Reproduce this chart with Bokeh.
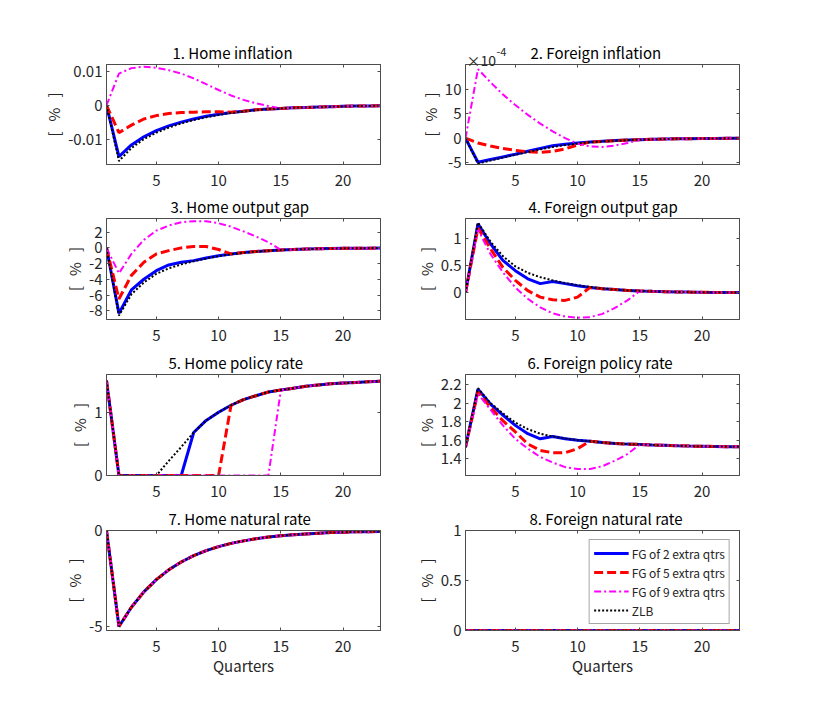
from bokeh.plotting import figure
from bokeh.layouts import gridplot
from bokeh.models import (Range1d, FixedTicker, LinearAxis, CustomJSTickFormatter,
                          Legend, LegendItem, Label)
from bokeh.embed import file_html
from bokeh.resources import INLINE

FONT = "Noto Sans CJK JP"
AX = "#4d4d4d"
TXT = "#262626"

quarters = list(range(1, 24))
series_labels = ["FG of 2 extra qtrs", "FG of 5 extra qtrs", "FG of 9 extra qtrs", "ZLB"]
x_ticks = [5, 10, 15, 20]

# 1. Home inflation
home_infl_fg2 = [0.0, -0.0150, -0.0116, -0.0092, -0.0074, -0.0060, -0.0049, -0.0040, -0.0032, -0.0026, -0.0021, -0.0017, -0.0013, -0.0011, -0.0009, -0.0007, -0.0006, -0.0005, -0.0004, -0.0003, -0.0002, -0.0002, -0.0001]
home_infl_fg5 = [0.0, -0.0080, -0.0058, -0.0040, -0.0030, -0.0024, -0.0021, -0.0020, -0.0019, -0.0019, -0.0020, -0.0017, -0.0013, -0.0011, -0.0009, -0.0007, -0.0006, -0.0005, -0.0004, -0.0003, -0.0002, -0.0002, -0.0001]
home_infl_fg9 = [0.0, 0.0093, 0.0109, 0.0113, 0.0110, 0.0103, 0.0093, 0.0079, 0.0062, 0.0045, 0.0029, 0.0016, 0.0006, -0.0002, -0.0009, -0.0007, -0.0006, -0.0005, -0.0004, -0.0003, -0.0002, -0.0002, -0.0001]
home_infl_zlb = [0.0, -0.0163, -0.0125, -0.0099, -0.0080, -0.0065, -0.0053, -0.0043, -0.0035, -0.0028, -0.0022, -0.0018, -0.0014, -0.0011, -0.0009, -0.0007, -0.0006, -0.0005, -0.0004, -0.0003, -0.0002, -0.0002, -0.0001]

# 2. Foreign inflation (x 1e-4)
for_infl_fg2 = [0.0, -4.95, -4.4, -3.85, -3.3, -2.7, -2.1, -1.55, -1.25, -1.0, -0.8, -0.65, -0.5, -0.4, -0.3, -0.22, -0.17, -0.13, -0.1, -0.07, -0.05, -0.04, -0.03]
for_infl_fg5 = [0.0, -1.0, -1.6, -2.1, -2.5, -2.8, -2.9, -2.7, -2.2, -1.4, -0.8, -0.65, -0.5, -0.4, -0.3, -0.22, -0.17, -0.13, -0.1, -0.07, -0.05, -0.04, -0.03]
for_infl_fg9 = [0.0, 14.2, 11.5, 9.0, 6.8, 4.8, 3.0, 1.4, 0.0, -1.1, -1.7, -1.8, -1.5, -1.0, -0.3, -0.22, -0.17, -0.13, -0.1, -0.07, -0.05, -0.04, -0.03]
for_infl_zlb = [0.0, -5.2, -4.6, -4.0, -3.4, -2.85, -2.3, -1.8, -1.4, -1.1, -0.85, -0.67, -0.52, -0.41, -0.31, -0.23, -0.17, -0.13, -0.1, -0.07, -0.05, -0.04, -0.03]

# 3. Home output gap
home_gap_fg2 = [0.0, -8.33, -5.35, -3.99, -2.9, -2.17, -1.83, -1.62, -1.28, -1.0, -0.77, -0.6, -0.47, -0.35, -0.26, -0.2, -0.15, -0.11, -0.08, -0.06, -0.04, -0.03, -0.02]
home_gap_fg5 = [0.0, -6.5, -3.5, -1.83, -0.77, -0.35, 0.0, 0.17, 0.17, -0.2, -0.77, -0.6, -0.47, -0.35, -0.26, -0.2, -0.15, -0.11, -0.08, -0.06, -0.04, -0.03, -0.02]
home_gap_fg9 = [0.0, -3.23, -0.77, 1.02, 2.2, 2.84, 3.27, 3.4, 3.4, 3.14, 2.7, 2.1, 1.45, 0.72, -0.26, -0.2, -0.15, -0.11, -0.08, -0.06, -0.04, -0.03, -0.02]
home_gap_zlb = [0.0, -8.6, -5.9, -4.4, -3.3, -2.6, -2.1, -1.7, -1.35, -1.05, -0.8, -0.62, -0.48, -0.36, -0.27, -0.2, -0.15, -0.11, -0.08, -0.06, -0.04, -0.03, -0.02]

# 4. Foreign output gap
for_gap_fg2 = [0.0, 1.28, 0.91, 0.6, 0.41, 0.26, 0.17, 0.21, 0.17, 0.13, 0.1, 0.075, 0.06, 0.045, 0.035, 0.028, 0.022, 0.017, 0.013, 0.01, 0.008, 0.006, 0.005]
for_gap_fg5 = [0.0, 1.2, 0.82, 0.47, 0.23, 0.04, -0.08, -0.13, -0.14, -0.08, 0.1, 0.075, 0.06, 0.045, 0.035, 0.028, 0.022, 0.017, 0.013, 0.01, 0.008, 0.006, 0.005]
for_gap_fg9 = [0.0, 1.17, 0.72, 0.38, 0.1, -0.11, -0.27, -0.38, -0.44, -0.46, -0.45, -0.39, -0.28, -0.14, 0.035, 0.028, 0.022, 0.017, 0.013, 0.01, 0.008, 0.006, 0.005]
for_gap_zlb = [0.0, 1.3, 0.95, 0.68, 0.49, 0.37, 0.29, 0.23, 0.18, 0.14, 0.11, 0.08, 0.06, 0.045, 0.035, 0.028, 0.022, 0.017, 0.013, 0.01, 0.008, 0.006, 0.005]

# 5. Home policy rate
home_rate_fg2 = [1.5, 0.0, 0.0, 0.0, 0.0, 0.0, 0.0, 0.68, 0.87, 1.0, 1.11, 1.2, 1.26, 1.32, 1.35, 1.38, 1.41, 1.43, 1.45, 1.46, 1.47, 1.48, 1.49]
home_rate_fg5 = [1.5, 0.0, 0.0, 0.0, 0.0, 0.0, 0.0, 0.0, 0.0, 0.0, 1.11, 1.2, 1.26, 1.32, 1.35, 1.38, 1.41, 1.43, 1.45, 1.46, 1.47, 1.48, 1.49]
home_rate_fg9 = [1.5, 0.0, 0.0, 0.0, 0.0, 0.0, 0.0, 0.0, 0.0, 0.0, 0.0, 0.0, 0.0, 0.0, 1.35, 1.38, 1.41, 1.43, 1.45, 1.46, 1.47, 1.48, 1.49]
home_rate_zlb = [1.5, 0.0, 0.0, 0.0, 0.0, 0.23, 0.45, 0.68, 0.87, 1.0, 1.11, 1.2, 1.26, 1.32, 1.35, 1.38, 1.41, 1.43, 1.45, 1.46, 1.47, 1.48, 1.49]

# 6. Foreign policy rate
for_rate_fg2 = [1.525, 2.15, 1.99, 1.87, 1.76, 1.67, 1.615, 1.64, 1.615, 1.60, 1.59, 1.575, 1.565, 1.558, 1.555, 1.548, 1.545, 1.54, 1.537, 1.535, 1.533, 1.531, 1.53]
for_rate_fg5 = [1.525, 2.12, 1.956, 1.81, 1.69, 1.56, 1.49, 1.465, 1.465, 1.51, 1.59, 1.575, 1.565, 1.558, 1.555, 1.548, 1.545, 1.54, 1.537, 1.535, 1.533, 1.531, 1.53]
for_rate_fg9 = [1.525, 2.10, 1.93, 1.76, 1.615, 1.51, 1.42, 1.36, 1.31, 1.29, 1.29, 1.32, 1.38, 1.45, 1.555, 1.548, 1.545, 1.54, 1.537, 1.535, 1.533, 1.531, 1.53]
for_rate_zlb = [1.525, 2.16, 2.0, 1.89, 1.79, 1.72, 1.67, 1.64, 1.62, 1.60, 1.59, 1.575, 1.565, 1.558, 1.555, 1.548, 1.545, 1.54, 1.537, 1.535, 1.533, 1.531, 1.53]

# 7. Home natural rate (identical across scenarios)
home_nat = [0.0, -5.0, -4.0, -3.2, -2.56, -2.05, -1.64, -1.31, -1.05, -0.84, -0.67, -0.54, -0.43, -0.34, -0.27, -0.22, -0.18, -0.14, -0.11, -0.09, -0.07, -0.06, -0.05]

# 8. Foreign natural rate
for_nat = [0.0, 0.0, 0.0, 0.0, 0.0, 0.0, 0.0, 0.0, 0.0, 0.0, 0.0, 0.0, 0.0, 0.0, 0.0, 0.0, 0.0, 0.0, 0.0, 0.0, 0.0, 0.0, 0.0]

panels = [
    ("1. Home inflation", (-0.01732, 0.01196), [-0.01, 0, 0.01],
     [home_infl_fg2, home_infl_fg5, home_infl_fg9, home_infl_zlb]),
    ("2. Foreign inflation", (-5.41, 15.14), [-5, 0, 5, 10],
     [for_infl_fg2, for_infl_fg5, for_infl_fg9, for_infl_zlb]),
    ("3. Home output gap", (-9.11, 3.74), [-8, -6, -4, -2, 0, 2],
     [home_gap_fg2, home_gap_fg5, home_gap_fg9, home_gap_zlb]),
    ("4. Foreign output gap", (-0.494, 1.376), [0, 0.5, 1],
     [for_gap_fg2, for_gap_fg5, for_gap_fg9, for_gap_zlb]),
    ("5. Home policy rate", (0, 1.596), [0, 1],
     [home_rate_fg2, home_rate_fg5, home_rate_fg9, home_rate_zlb]),
    ("6. Foreign policy rate", (1.22, 2.308), [1.4, 1.6, 1.8, 2.0, 2.2],
     [for_rate_fg2, for_rate_fg5, for_rate_fg9, for_rate_zlb]),
    ("7. Home natural rate", (-5.21, 0), [-5, 0],
     [home_nat, home_nat, home_nat, home_nat]),
    ("8. Foreign natural rate", (0, 1), [0, 0.5, 1],
     [for_nat, for_nat, for_nat, for_nat]),
]

colors = ["#0000ff", "#ff0000", "#ff00ff", "#000000"]
dashes = ["solid", "9 4", "7 3 2 3", "2 2"]
widths = [3, 3, 2, 2]

col_borders = [(106, 20), (65, 70)]
row_borders = [(64, 27, 100), (27, 27, 101), (28, 25, 101), (30, 70, 100)]
title_offsets = [66, 65, 64, 63, 62, 62, 62, 64]

fmt_code = "return tick.toString();"
NB = "\u00a0"

figs = []
for i, (title, yr, yt, series) in enumerate(panels):
    r, c = divmod(i, 2)
    bl, br = col_borders[c]
    bt, bb, fh = row_borders[r]
    p = figure(frame_width=274, frame_height=fh,
               x_range=Range1d(1, 23), y_range=Range1d(*yr),
               output_backend="svg", toolbar_location=None,
               min_border_left=bl, min_border_right=br,
               min_border_top=bt, min_border_bottom=bb,
               title=title, background_fill_color="white",
               border_fill_color="white")
    p.title.align = "left"
    p.title.offset = title_offsets[i]
    p.title.text_font = FONT
    p.title.text_font_size = "15px"
    p.title.text_font_style = "normal"
    p.title.text_color = "black"
    p.title.standoff = 3
    p.outline_line_color = AX
    p.outline_line_width = 1
    p.xgrid.visible = False
    p.ygrid.visible = False

    for ax, tk in ((p.xaxis[0], x_ticks), (p.yaxis[0], yt)):
        ax.ticker = FixedTicker(ticks=tk)
        ax.formatter = CustomJSTickFormatter(code=fmt_code)
        ax.major_tick_in = 3
        ax.major_tick_out = 0
        ax.minor_tick_line_color = None
        ax.axis_line_color = AX
        ax.major_tick_line_color = AX
        ax.major_label_text_font = FONT
        ax.major_label_text_font_size = "15px"
        ax.major_label_text_color = TXT
    p.xaxis[0].major_label_standoff = 10
    p.yaxis[0].major_label_standoff = 4
    p.yaxis[0].axis_label = "[" + NB * 3 + "%" + NB * 3 + "]"
    p.yaxis[0].axis_label_text_font = FONT
    p.yaxis[0].axis_label_text_font_size = "15px"
    p.yaxis[0].axis_label_text_font_style = "normal"
    p.yaxis[0].axis_label_text_color = TXT
    p.yaxis[0].axis_label_standoff = 1
    if r == 3:
        p.xaxis[0].axis_label = "Quarters"
        p.xaxis[0].axis_label_text_font = FONT
        p.xaxis[0].axis_label_text_font_size = "15px"
        p.xaxis[0].axis_label_text_font_style = "normal"
        p.xaxis[0].axis_label_text_color = TXT
        p.xaxis[0].axis_label_standoff = 0

    for loc, tk in (("above", x_ticks), ("right", yt)):
        extra = LinearAxis(ticker=FixedTicker(ticks=tk),
                           major_label_text_font_size="1px",
                           major_label_text_color=None,
                           major_label_standoff=0,
                           major_tick_in=3, major_tick_out=0,
                           minor_tick_line_color=None,
                           axis_line_color=AX, major_tick_line_color=AX)
        p.add_layout(extra, loc)

    rends = []
    for ys, col, dash, w in zip(series, colors, dashes, widths):
        rr = p.line(quarters, ys, line_color=col, line_width=w, line_dash=dash)
        rends.append(rr)

    if i == 1:
        # exponent note, placed in the right-hand side panel and shifted back over the frame
        p.add_layout(Label(x=-273, y=fh + 5, x_units="screen", y_units="screen",
                           text="\u00d710",
                           text_font=FONT, text_font_size="14px", text_color=TXT,
                           text_baseline="alphabetic"), "right")
        p.add_layout(Label(x=-273, y=fh + 13, x_units="screen", y_units="screen",
                           text="-4",
                           text_font=FONT, text_font_size="11px", text_color=TXT,
                           text_baseline="alphabetic"), "right")
    if i == 7:
        legend = Legend(items=[LegendItem(label=lab, renderers=[rr])
                               for lab, rr in zip(series_labels, rends)],
                        location="top_right", margin=9, padding=4, spacing=1,
                        glyph_width=35, glyph_height=18, label_height=18,
                        label_standoff=3, label_text_font=FONT,
                        label_text_font_size="12px", label_text_color=TXT,
                        border_line_color=AX, border_line_width=1,
                        background_fill_color="white", background_fill_alpha=1)
        p.add_layout(legend)
    figs.append(p)

grid = gridplot([[figs[0], figs[1]], [figs[2], figs[3]],
                 [figs[4], figs[5]], [figs[6], figs[7]]],
                toolbar_location=None)

open("out.html", "w").write(file_html(grid, INLINE))
